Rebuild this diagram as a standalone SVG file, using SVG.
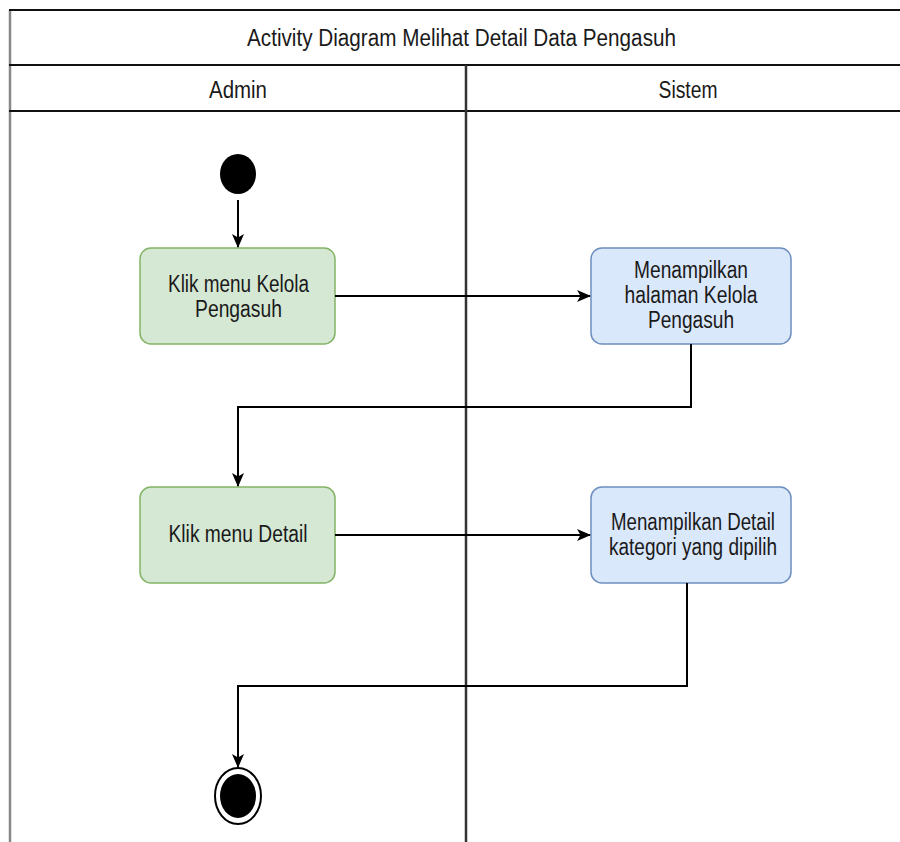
<svg xmlns="http://www.w3.org/2000/svg" width="900" height="842" viewBox="0 0 900 842">
<style>
text{font-family:"Liberation Sans",Arial,sans-serif;font-size:23px;fill:#1a1a1a;text-anchor:middle}
.frame{stroke:#111;stroke-width:2;fill:none}
.act-g{fill:#d5e8d4;stroke:#82b366;stroke-width:1.5}
.act-b{fill:#dae8fc;stroke:#6c8ebf;stroke-width:1.5}
.conn{stroke:#000;stroke-width:2;fill:none;marker-end:url(#arr)}
</style>
<defs>
<marker id="arr" viewBox="0 0 14 14" refX="13" refY="7" markerWidth="14" markerHeight="14" markerUnits="userSpaceOnUse" orient="auto">
<path d="M0,1 L14,7 L0,13 L3.5,7 Z" fill="#000"/>
</marker>
</defs>
<rect width="900" height="842" fill="#fff"/>
<g id="pool">
<line x1="10" y1="10" x2="10" y2="842" stroke="#888" stroke-width="2.5"/>
<line class="frame" x1="9" y1="10" x2="900" y2="10"/>
<line class="frame" x1="9" y1="65" x2="900" y2="65"/>
<line class="frame" x1="9" y1="111" x2="900" y2="111"/>
<line x1="466" y1="65" x2="466" y2="842" stroke="#333" stroke-width="2.5"/>
<text x="461.5" y="46" textLength="429" lengthAdjust="spacingAndGlyphs">Activity Diagram Melihat Detail Data Pengasuh</text>
<text x="238" y="98" textLength="58" lengthAdjust="spacingAndGlyphs">Admin</text>
<text x="688" y="98" textLength="59" lengthAdjust="spacingAndGlyphs">Sistem</text>
</g>
<g id="start">
<ellipse cx="238" cy="174" rx="18" ry="20" fill="#000"/>
</g>
<g id="a1">
<rect class="act-g" x="140" y="248" width="195" height="96" rx="11"/>
<text x="238.5" y="292" textLength="141" lengthAdjust="spacingAndGlyphs">Klik menu Kelola</text>
<text x="238.5" y="317" textLength="87" lengthAdjust="spacingAndGlyphs">Pengasuh</text>
</g>
<g id="s1">
<rect class="act-b" x="591" y="248" width="200" height="96" rx="11"/>
<text x="691" y="278" textLength="114" lengthAdjust="spacingAndGlyphs">Menampilkan</text>
<text x="691" y="303" textLength="133" lengthAdjust="spacingAndGlyphs">halaman Kelola</text>
<text x="691" y="328" textLength="86" lengthAdjust="spacingAndGlyphs">Pengasuh</text>
</g>
<g id="a2">
<rect class="act-g" x="140" y="487" width="195" height="96" rx="11"/>
<text x="238" y="542" textLength="139" lengthAdjust="spacingAndGlyphs">Klik menu Detail</text>
</g>
<g id="s2">
<rect class="act-b" x="591" y="487" width="200" height="96" rx="11"/>
<text x="693" y="530" textLength="164" lengthAdjust="spacingAndGlyphs">Menampilkan Detail</text>
<text x="693" y="555" textLength="168" lengthAdjust="spacingAndGlyphs">kategori yang dipilih</text>
</g>
<g id="end">
<ellipse cx="238" cy="796" rx="23" ry="28" fill="#fff" stroke="#000" stroke-width="2"/>
<ellipse cx="238" cy="796" rx="18" ry="22" fill="#000"/>
</g>
<g id="connectors">
<path class="conn" d="M238,200 L238,247"/>
<path class="conn" d="M335,296 L590,296"/>
<path class="conn" d="M691,344 L691,407 L238,407 L238,486"/>
<path class="conn" d="M335,535 L590,535"/>
<path class="conn" d="M687,583 L687,686 L238,686 L238,767"/>
</g>
</svg>
